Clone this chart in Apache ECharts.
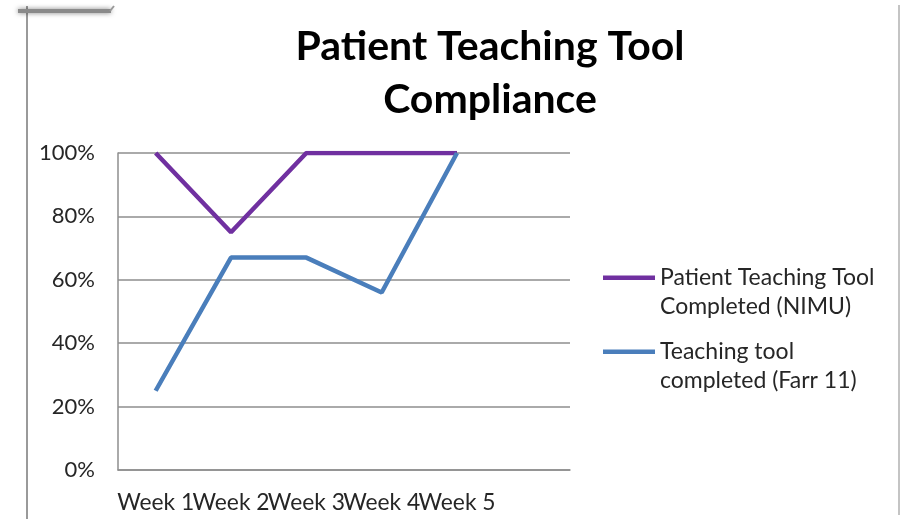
<!DOCTYPE html>
<html><head><meta charset="utf-8">
<script src="https://cdn.jsdelivr.net/npm/echarts@6/dist/echarts.min.js"></script>
<style>html,body{margin:0;padding:0;background:#fff}#c{width:900px;height:519px}</style>
</head><body><div id="c"></div>
<script>
const titleText = 'Patient Teaching Tool\nCompliance';
const weeks = ['Week 1', 'Week 2', 'Week 3', 'Week 4', 'Week 5'];
const nimu = [100, 75, 100, 100, 100];
const farr11 = [25, 67, 67, 56, 100];
const seriesNames = ['Patient Teaching Tool\nCompleted (NIMU)', 'Teaching tool\ncompleted (Farr 11)'];
const seriesColors = ['#7030A0', '#4A7EBB'];

const FONT = 'Lato';
const chart = echarts.init(document.getElementById('c'), null, {renderer: 'canvas'});
const iconPath = 'path://M0,0H52V4.5H0Z M0,33L0.01,33Z';
chart.setOption({
  animation: false,
  backgroundColor: '#fff',
  title: {
    text: titleText,
    left: 490, top: 20, textAlign: 'center', padding: 0,
    textStyle: {fontFamily: FONT, fontWeight: 'bold', fontSize: 41, lineHeight: 53, color: '#000'}
  },
  grid: {left: 118, right: 330, top: 153, bottom: 49, containLabel: false},
  legend: {
    orient: 'vertical', left: 603, top: 263, padding: 0, itemGap: 16,
    itemWidth: 52, itemHeight: 33,
    textStyle: {fontFamily: FONT, fontSize: 23, lineHeight: 29, color: '#262626'},
    data: seriesNames.map((n, i) => ({name: n, icon: iconPath, itemStyle: {color: seriesColors[i]}}))
  },
  xAxis: {
    type: 'category', data: weeks.concat(['']), boundaryGap: true,
    axisLine: {show: true, lineStyle: {color: '#8e8e8e', width: 1.5}},
    axisTick: {show: false},
    axisLabel: {interval: 0, margin: 21, fontFamily: FONT, fontSize: 22.8, color: '#262626'},
    splitLine: {show: false}
  },
  yAxis: {
    type: 'value', min: 0, max: 100, interval: 20,
    axisLine: {show: true, lineStyle: {color: '#8e8e8e', width: 1.5}},
    axisTick: {show: false},
    axisLabel: {margin: 23, fontFamily: FONT, fontSize: 22, color: '#262626', formatter: v => v + '%'},
    splitLine: {show: true, lineStyle: {color: '#8e8e8e', width: 1.5}}
  },
  series: [
    {name: seriesNames[0], type: 'line', data: nimu, showSymbol: false, symbol: 'none',
     lineStyle: {color: seriesColors[0], width: 4.5}, itemStyle: {color: seriesColors[0]}},
    {name: seriesNames[1], type: 'line', data: farr11, showSymbol: false, symbol: 'none',
     lineStyle: {color: seriesColors[1], width: 4.5}, itemStyle: {color: seriesColors[1]}}
  ],
  graphic: [
    {type: 'line', shape: {x1: 27, y1: 6, x2: 27, y2: 519}, style: {stroke: '#9a9a9a', lineWidth: 2}},
    {type: 'line', shape: {x1: 899, y1: 5, x2: 899, y2: 515}, style: {stroke: '#b0b0b0', lineWidth: 1.5}},
    {type: 'rect', shape: {x: 18, y: 9, width: 93, height: 4}, style: {fill: '#8a8a8a', shadowBlur: 5, shadowColor: 'rgba(0,0,0,0.5)'}},
    {type: 'line', shape: {x1: 110, y1: 11, x2: 114, y2: 6}, style: {stroke: '#999', lineWidth: 2}}
  ]
});
</script></body></html>
